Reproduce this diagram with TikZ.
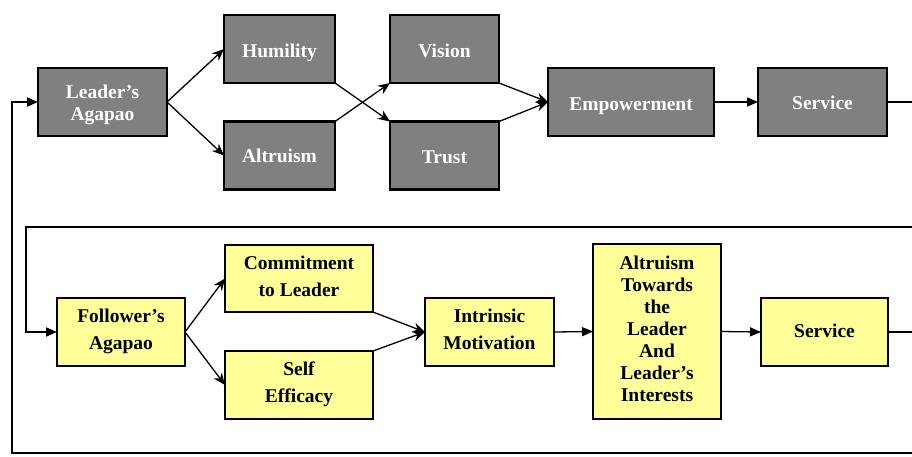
\documentclass[tikz,border=0pt]{standalone}
\usepackage{fontspec}
\setmainfont{Liberation Serif}
\usetikzlibrary{arrows.meta}
\definecolor{boxgray}{HTML}{808080}
\definecolor{boxyellow}{HTML}{FFFF99}
% box label: centred lines, lowered by #1 without changing the box size
\newcommand\boxtext[2]{\raisebox{-#1}[\height][\depth]{\begin{tabular}{@{}c@{}}#2\end{tabular}}}
\begin{document}
\begin{tikzpicture}[x=1pt,y=-1pt,
  base/.style={draw=black, line width=2.2pt, rectangle, inner sep=0pt, outer sep=0pt,
    font=\fontsize{19.5}{22}\selectfont\bfseries},
  leadbox/.style={base, fill=boxgray, text=white},
  follbox/.style={base, fill=boxyellow, text=black},
  link/.style={line width=1.3pt, -{Stealth[length=12pt,width=10pt]}},
  flat/.style={line width=1.3pt, -{Triangle[length=11pt,width=9pt]}},
  loop/.style={line width=1.8pt},
  plain/.style={line width=1.3pt}]
\useasboundingbox (0,0) rectangle (912,456);

% leader row
\node[leadbox, minimum width=129pt, minimum height=68pt] (la) at (102.5,102) {\boxtext{3pt}{Leader's\\Agapao}};
\node[leadbox, minimum width=111pt, minimum height=68pt] (hum) at (279.5,49) {\boxtext{4pt}{Humility}};
\node[leadbox, minimum width=111pt, minimum height=68pt] (alt) at (279.5,155.5) {\boxtext{3pt}{Altruism}};
\node[leadbox, minimum width=109pt, minimum height=68pt] (vis) at (444.5,49) {\boxtext{4pt}{Vision}};
\node[leadbox, minimum width=109pt, minimum height=68pt] (tru) at (444.5,155.5) {\boxtext{4pt}{Trust}};
\node[leadbox, minimum width=166pt, minimum height=68pt] (emp) at (631,102) {\boxtext{4pt}{Empowerment}};
\node[leadbox, minimum width=129pt, minimum height=68pt] (ser) at (822.5,102) {\boxtext{3pt}{Service}};

% follower row
\node[follbox, minimum width=128pt, minimum height=68pt] (fa) at (121,332) {\boxtext{0pt}{Follower's\\[5pt]Agapao}};
\node[follbox, minimum width=148pt, minimum height=67pt] (com) at (299,278.5) {\boxtext{0pt}{Commitment\\[5pt]to Leader}};
\node[follbox, minimum width=148pt, minimum height=68pt] (eff) at (299,385) {\boxtext{0pt}{Self\\[5pt]Efficacy}};
\node[follbox, minimum width=129pt, minimum height=68pt] (im) at (489.5,332) {\boxtext{0pt}{Intrinsic\\[5pt]Motivation}};
\node[follbox, minimum width=128pt, minimum height=175pt] (atl) at (657,331.5)
  {\boxtext{0pt}{Altruism\\Towards\\the\\Leader\\And\\Leader's\\Interests}};
\node[follbox, minimum width=127pt, minimum height=68pt] (ser2) at (824.5,332) {\boxtext{1pt}{Service}};

% leader row links
\draw[link] (la.east) -- (hum.west);
\draw[link] (la.east) -- (alt.west);
\draw[link] (hum.south east) -- (tru.north west);
\draw[link] (alt.north east) -- (vis.south west);
\draw[link] (vis.south east) -- (emp.west);
\draw[link] (tru.north east) -- (emp.west);
\draw[flat] (emp.east) -- (ser.west);

% follower row links
\draw[link] (fa.east) -- (com.west);
\draw[link] (fa.east) -- (eff.west);
\draw[link] (com.south east) -- (im.west);
\draw[link] (eff.north east) -- (im.west);
\draw[flat] (im.east) -- (atl.west);
\draw[flat] (atl.east) -- (ser2.west);

% feedback lines running past the right edge
\coordinate (outA) at (914,102);
\coordinate (outB) at (914,332);
\coordinate (retA) at (914,227);
\coordinate (retB) at (914,453);
\draw[plain] (ser.east) -- (outA);
\draw[plain] (ser2.east) -- (outB);
\draw[loop, -{Triangle[length=11pt,width=9pt]}] (retA) -- (26,227) |- (fa.west);
\draw[loop, -{Triangle[length=11pt,width=9pt]}] (retB) -- (12,453) |- (la.west);
\end{tikzpicture}
\end{document}
